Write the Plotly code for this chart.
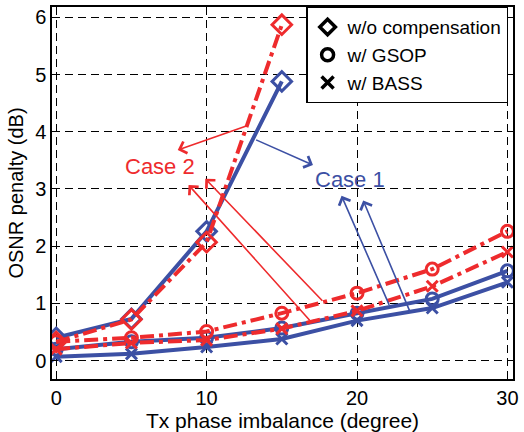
import plotly.graph_objects as go

# ---- data ----
x_all = [0, 5, 10, 15, 20, 25, 30]
x_wo = [0, 5, 10, 15]

case1_wo = [0.40, 0.73, 2.26, 4.88]
case1_gsop = [0.20, 0.33, 0.40, 0.57, 0.83, 1.08, 1.57]
case1_bass = [0.07, 0.12, 0.24, 0.38, 0.70, 0.92, 1.37]

case2_wo = [0.33, 0.72, 2.07, 5.87]
case2_gsop = [0.33, 0.40, 0.51, 0.83, 1.18, 1.60, 2.26]
case2_bass = [0.20, 0.31, 0.36, 0.56, 0.87, 1.30, 1.90]

legend_names = ["w/o compensation", "w/ GSOP", "w/ BASS"]
legend_symbols = ["diamond-open", "circle-open", "x-thin-open"]

x_ticks = [0, 10, 20, 30]
y_ticks = [0, 1, 2, 3, 4, 5, 6]

# arrows: (tail_x, tail_y, head_x, head_y)
case2_arrows = [(12.74, 4.11, 8.08, 3.68), (17.79, 1.02, 9.91, 3.18), (16.94, 0.68, 8.80, 3.07)]
case1_arrows = [(13.19, 3.87, 17.07, 3.42), (22.18, 0.95, 18.97, 2.88), (23.56, 0.83, 20.41, 2.80)]
case2_label = (6.89, 3.40)
case1_label = (19.56, 3.16)

BLUE = "#3c50a4"
RED = "#ee2b2d"
FONT = "Liberation Sans, Arial, sans-serif"

fig = go.Figure()

def add(xs, ys, color, dash, symbol, size):
    fig.add_trace(go.Scatter(
        x=xs, y=ys, mode="lines+markers", showlegend=False,
        line=dict(color=color, width=4, dash=dash),
        marker=dict(symbol=symbol, size=size, color=color,
                    line=dict(color=color, width=3)),
    ))

# Case 1 (blue, solid)
add(x_all, case1_bass, BLUE, "solid", "x-thin-open", 11)
add(x_all, case1_gsop, BLUE, "solid", "circle-open", 12)
add(x_wo, case1_wo, BLUE, "solid", "diamond-open", 15)
# Case 2 (red, dash-dot)
add(x_all, case2_bass, RED, "14px,5px,4px,5px", "x-thin-open", 11)
add(x_all, case2_gsop, RED, "14px,5px,4px,5px", "circle-open", 12)
add(x_wo, case2_wo, RED, "14px,5px,4px,5px", "diamond-open", 15)

# legend entries (black markers only)
for name, sym in zip(legend_names, legend_symbols):
    fig.add_trace(go.Scatter(
        x=[None], y=[None], mode="markers", name=name,
        marker=dict(symbol=sym, size=12, color="black",
                    line=dict(color="black", width=3.5)),
    ))

annotations = []
for (tx, ty, hx, hy) in case2_arrows:
    annotations.append(dict(x=hx, y=hy, ax=tx, ay=ty, xref="x", yref="y",
                            axref="x", ayref="y", text="", showarrow=True,
                            arrowhead=4, arrowsize=1.5, arrowwidth=1.6,
                            arrowcolor=RED, standoff=0, startstandoff=0))
for (tx, ty, hx, hy) in case1_arrows:
    annotations.append(dict(x=hx, y=hy, ax=tx, ay=ty, xref="x", yref="y",
                            axref="x", ayref="y", text="", showarrow=True,
                            arrowhead=4, arrowsize=1.5, arrowwidth=1.6,
                            arrowcolor=BLUE, standoff=0, startstandoff=0))
annotations.append(dict(x=case2_label[0], y=case2_label[1], xref="x", yref="y",
                        text="Case 2", showarrow=False,
                        font=dict(family=FONT, size=22, color=RED)))
annotations.append(dict(x=case1_label[0], y=case1_label[1], xref="x", yref="y",
                        text="Case 1", showarrow=False,
                        font=dict(family=FONT, size=22, color=BLUE)))

axis_common = dict(
    showgrid=True, gridcolor="black", gridwidth=1, griddash="8px,5px",
    showline=True, linecolor="black", linewidth=1.5, mirror="allticks",
    ticks="inside", ticklen=5, tickcolor="black", zeroline=False,
    tickfont=dict(family=FONT, size=20, color="black"),
)

fig.update_layout(
    width=524, height=432,
    margin=dict(l=52, r=5, t=5, b=53),
    paper_bgcolor="white", plot_bgcolor="white",
    font=dict(family=FONT, color="black"),
    xaxis=dict(range=[-0.28, 30.37], tickvals=x_ticks,
               title=dict(text="Tx phase imbalance (degree)", standoff=1,
                          font=dict(family=FONT, size=21, color="black")),
               **axis_common),
    yaxis=dict(range=[-0.32, 6.18], tickvals=y_ticks,
               title=dict(text="OSNR penalty (dB)", standoff=6,
                          font=dict(family=FONT, size=20, color="black")),
               **axis_common),
    legend=dict(x=0.99, y=1.0, xanchor="right", yanchor="top",
                bgcolor="white", bordercolor="black", borderwidth=1.2,
                font=dict(family=FONT, size=19, color="black"),
                itemwidth=30, tracegroupgap=0),
    annotations=annotations,
)

fig.write_html("out.html", config={"displayModeBar": False},
               post_script="document.body.style.margin='0';document.body.style.overflow='hidden';")
